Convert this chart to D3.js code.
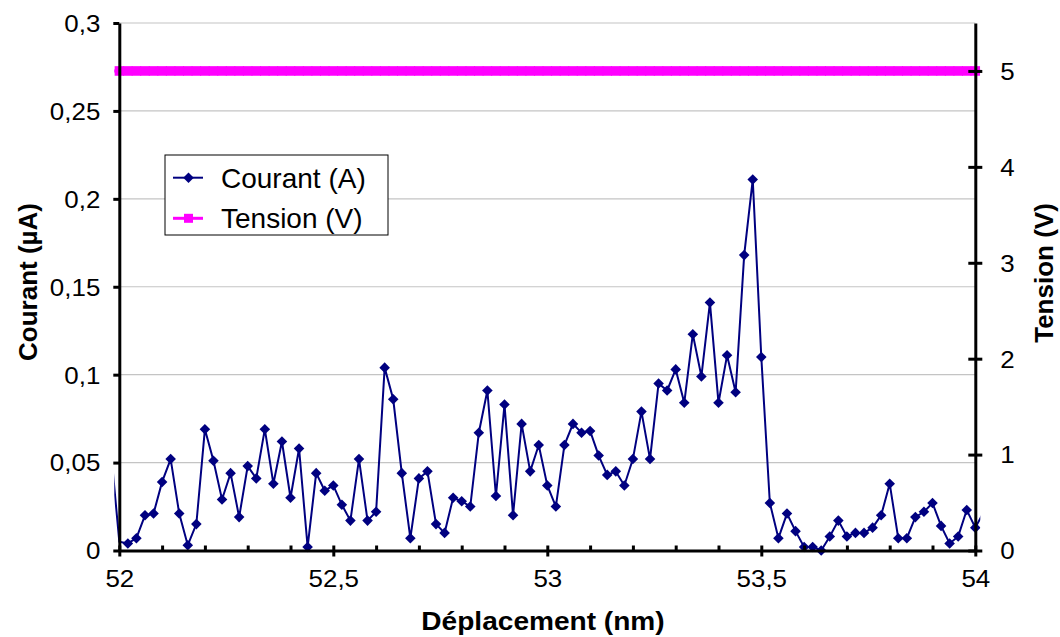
<!DOCTYPE html>
<html><head><meta charset="utf-8">
<script src="https://cdn.jsdelivr.net/npm/d3@7"></script>
<style>
body{margin:0;background:#fff}
svg{display:block}
text{font-family:Arial,"Liberation Sans",sans-serif;fill:#000}
</style>
</head><body>
<svg id="chart" width="1060" height="637"></svg>
<script>
// ---------- data ----------
const displacement = [
 51.98, 52.00,
 52.02, 52.04, 52.06, 52.08, 52.10, 52.12, 52.14, 52.16, 52.18, 52.20,
 52.22, 52.24, 52.26, 52.28, 52.30, 52.32, 52.34, 52.36, 52.38, 52.40,
 52.42, 52.44, 52.46, 52.48, 52.50, 52.52, 52.54, 52.56, 52.58, 52.60,
 52.62, 52.64, 52.66, 52.68, 52.70, 52.72, 52.74, 52.76, 52.78, 52.80,
 52.82, 52.84, 52.86, 52.88, 52.90, 52.92, 52.94, 52.96, 52.98, 53.00,
 53.02, 53.04, 53.06, 53.08, 53.10, 53.12, 53.14, 53.16, 53.18, 53.20,
 53.22, 53.24, 53.26, 53.28, 53.30, 53.32, 53.34, 53.36, 53.38, 53.40,
 53.42, 53.44, 53.46, 53.48, 53.50, 53.52, 53.54, 53.56, 53.58, 53.60,
 53.62, 53.64, 53.66, 53.68, 53.70, 53.72, 53.74, 53.76, 53.78, 53.80,
 53.82, 53.84, 53.86, 53.88, 53.90, 53.92, 53.94, 53.96, 53.98, 54.00,
 54.02
];
const courant = [
 0.058, 0.005,
 0.004, 0.007, 0.020, 0.021, 0.039, 0.052, 0.021, 0.003, 0.015, 0.069,
 0.051, 0.029, 0.044, 0.019, 0.048, 0.041, 0.069, 0.038, 0.062, 0.030,
 0.058, 0.002, 0.044, 0.034, 0.037, 0.026, 0.017, 0.052, 0.017, 0.022,
 0.104, 0.086, 0.044, 0.007, 0.041, 0.045, 0.015, 0.010, 0.030, 0.028,
 0.025, 0.067, 0.091, 0.031, 0.083, 0.020, 0.072, 0.045, 0.060, 0.037,
 0.025, 0.060, 0.072, 0.067, 0.068, 0.054, 0.043, 0.045, 0.037, 0.052,
 0.079, 0.052, 0.095, 0.091, 0.103, 0.084, 0.123, 0.099, 0.141, 0.084,
 0.111, 0.090, 0.168, 0.211, 0.110, 0.027, 0.007, 0.021, 0.011, 0.002,
 0.002, 0.000, 0.008, 0.017, 0.008, 0.010, 0.010, 0.013, 0.020, 0.038,
 0.007, 0.007, 0.019, 0.022, 0.027, 0.014, 0.004, 0.008, 0.023, 0.013,
 0.022
];
const tension = [
 5, 5,
 5, 5, 5, 5, 5, 5, 5, 5, 5, 5,
 5, 5, 5, 5, 5, 5, 5, 5, 5, 5,
 5, 5, 5, 5, 5, 5, 5, 5, 5, 5,
 5, 5, 5, 5, 5, 5, 5, 5, 5, 5,
 5, 5, 5, 5, 5, 5, 5, 5, 5, 5,
 5, 5, 5, 5, 5, 5, 5, 5, 5, 5,
 5, 5, 5, 5, 5, 5, 5, 5, 5, 5,
 5, 5, 5, 5, 5, 5, 5, 5, 5, 5,
 5, 5, 5, 5, 5, 5, 5, 5, 5, 5,
 5, 5, 5, 5, 5, 5, 5, 5, 5, 5,
 5
];
const seriesNames = ["Courant (A)", "Tension (V)"];
const leftTicks = [0, 0.05, 0.1, 0.15, 0.2, 0.25, 0.3];
const leftTickLabels = ["0", "0,05", "0,1", "0,15", "0,2", "0,25", "0,3"];
const rightTicks = [0, 1, 2, 3, 4, 5];
const rightTickLabels = ["0", "1", "2", "3", "4", "5"];
const xTicks = [52, 52.5, 53, 53.5, 54];
const xTickLabels = ["52", "52,5", "53", "53,5", "54"];
const xMinorTicks = [52.1, 52.2, 52.3, 52.4, 52.6, 52.7, 52.8, 52.9, 53.1, 53.2, 53.3, 53.4, 53.6, 53.7, 53.8, 53.9];
const xTitle = "Déplacement (nm)";
const yLeftTitle = "Courant (µA)";
const yRightTitle = "Tension (V)";

// ---------- layout ----------
const L = 119.3, R = 975.3, T = 23, B = 550.5;
const NAVY = "#000080", MAGENTA = "#FF00FF";
const SX = 1.08;
const tickFont = 24;
const titleFont = 26;

const svg = d3.select("#chart");
const x = d3.scaleLinear().domain([52, 54]).range([L, R]);
const yL = d3.scaleLinear().domain([0, 0.3]).range([B, T]);
const yR = d3.scaleLinear().domain([0, 5.5]).range([B, T]);

// gridlines
svg.append("g").selectAll("line").data(leftTicks.filter(d => d > 0)).join("line")
  .attr("x1", L).attr("x2", R)
  .attr("y1", d => yL(d)).attr("y2", d => yL(d))
  .attr("stroke", "#c4c4c4").attr("stroke-width", 1.2);

// clip
svg.append("clipPath").attr("id", "clipLine").append("rect")
  .attr("x", L - 5).attr("y", 0).attr("width", R - L + 10).attr("height", 637);

const pts = displacement.map((d, i) => ({x: d, c: courant[i], t: tension[i]}));

// Tension series (secondary axis)
const gT = svg.append("g").attr("clip-path", "url(#clipLine)");
gT.append("path").datum(pts)
  .attr("d", d3.line().x(d => x(d.x)).y(d => yR(d.t)))
  .attr("fill", "none").attr("stroke", MAGENTA).attr("stroke-width", 3);
gT.selectAll("rect").data(pts.filter(d => d.x >= 52 && d.x <= 54)).join("rect")
  .attr("x", d => x(d.x) - 4.8).attr("y", d => yR(d.t) - 4.8)
  .attr("width", 9.6).attr("height", 9.6).attr("fill", MAGENTA);

// Courant series
const gC = svg.append("g").attr("clip-path", "url(#clipLine)");
gC.append("path").datum(pts)
  .attr("d", d3.line().x(d => x(d.x)).y(d => yL(d.c)))
  .attr("fill", "none").attr("stroke", NAVY).attr("stroke-width", 2);
const diamond = d3.symbol().type(d3.symbolSquare).size(56);
gC.selectAll("path.m").data(pts.filter(d => d.x > 52.01 && d.x <= 54.001)).join("path")
  .attr("class", "m")
  .attr("d", diamond)
  .attr("transform", d => `translate(${x(d.x)},${yL(d.c)}) rotate(45)`)
  .attr("fill", NAVY);

// ---------- axes ----------
function styleAxis(g) {
  g.select(".domain").attr("stroke", "#000").attr("stroke-width", 3);
  g.selectAll(".tick line").attr("stroke", "#000").attr("stroke-width", 3);
  g.selectAll(".tick text").attr("font-size", tickFont).attr("fill", "#000")
    .attr("font-family", "Arial, 'Liberation Sans', sans-serif");
}

const gxm = svg.append("g").attr("transform", `translate(0,${B})`)
  .call(d3.axisBottom(x).tickValues(xMinorTicks).tickSize(-5).tickSizeOuter(0).tickFormat(""));
styleAxis(gxm);
gxm.select(".domain").remove();

const gx = svg.append("g").attr("transform", `translate(0,${B})`)
  .call(d3.axisBottom(x).tickValues(xTicks).tickSizeOuter(0)
    .tickFormat((d, i) => xTickLabels[i]));
styleAxis(gx);
gx.selectAll(".tick line").attr("y1", -5).attr("y2", 6);
gx.selectAll(".tick text").attr("y", 0).attr("dy", 0)
  .attr("transform", `translate(0,36) scale(${SX},1)`);

const gyl = svg.append("g").attr("transform", `translate(${L},0)`)
  .call(d3.axisLeft(yL).tickValues(leftTicks).tickSize(6).tickSizeOuter(0)
    .tickFormat((d, i) => leftTickLabels[i]));
styleAxis(gyl);
gyl.selectAll(".tick text").attr("x", 0).attr("dy", "0.35em")
  .attr("transform", `translate(-19,0) scale(${SX},1)`);

const gyr = svg.append("g").attr("transform", `translate(${R},0)`)
  .call(d3.axisRight(yR).tickValues(rightTicks).tickSize(7).tickSizeOuter(0)
    .tickFormat((d, i) => rightTickLabels[i]));
styleAxis(gyr);
gyr.selectAll(".tick line").attr("x1", -7).attr("x2", 7);
gyr.selectAll(".tick text").attr("x", 0).attr("dy", "0.35em")
  .attr("transform", `translate(25,0) scale(${SX},1)`);

// ---------- titles ----------
svg.append("text").text(xTitle)
  .attr("text-anchor", "middle").attr("font-weight", "bold").attr("font-size", titleFont)
  .attr("transform", `translate(543,630) scale(${SX},1)`);
svg.append("text").text(yLeftTitle)
  .attr("text-anchor", "middle").attr("font-weight", "bold").attr("font-size", titleFont)
  .attr("transform", `translate(37,282) rotate(-90)`);
svg.append("text").text(yRightTitle)
  .attr("text-anchor", "middle").attr("font-weight", "bold").attr("font-size", titleFont)
  .attr("transform", `translate(1053,273) rotate(-90)`);

// ---------- legend ----------
const lg = svg.append("g");
lg.append("rect").attr("x", 165).attr("y", 155).attr("width", 223).attr("height", 80)
  .attr("fill", "#fff").attr("stroke", "#000").attr("stroke-width", 1);
const legendRows = [
  {name: seriesNames[0], color: NAVY, y: 177.7, shape: "diamond"},
  {name: seriesNames[1], color: MAGENTA, y: 218.3, shape: "square"}
];
legendRows.forEach(r => {
  lg.append("line").attr("x1", 173).attr("x2", 203).attr("y1", r.y).attr("y2", r.y)
    .attr("stroke", r.color).attr("stroke-width", r.shape === "square" ? 3 : 2);
  if (r.shape === "diamond") {
    lg.append("path").attr("d", diamond)
      .attr("transform", `translate(188.5,${r.y}) rotate(45)`).attr("fill", r.color);
  } else {
    lg.append("rect").attr("x", 188.5 - 4.5).attr("y", r.y - 4.5)
      .attr("width", 9).attr("height", 9).attr("fill", r.color);
  }
  lg.append("text").text(r.name).attr("x", 221).attr("y", r.y).attr("dy", "0.35em")
    .attr("font-size", 28);
});
</script>
</body></html>
